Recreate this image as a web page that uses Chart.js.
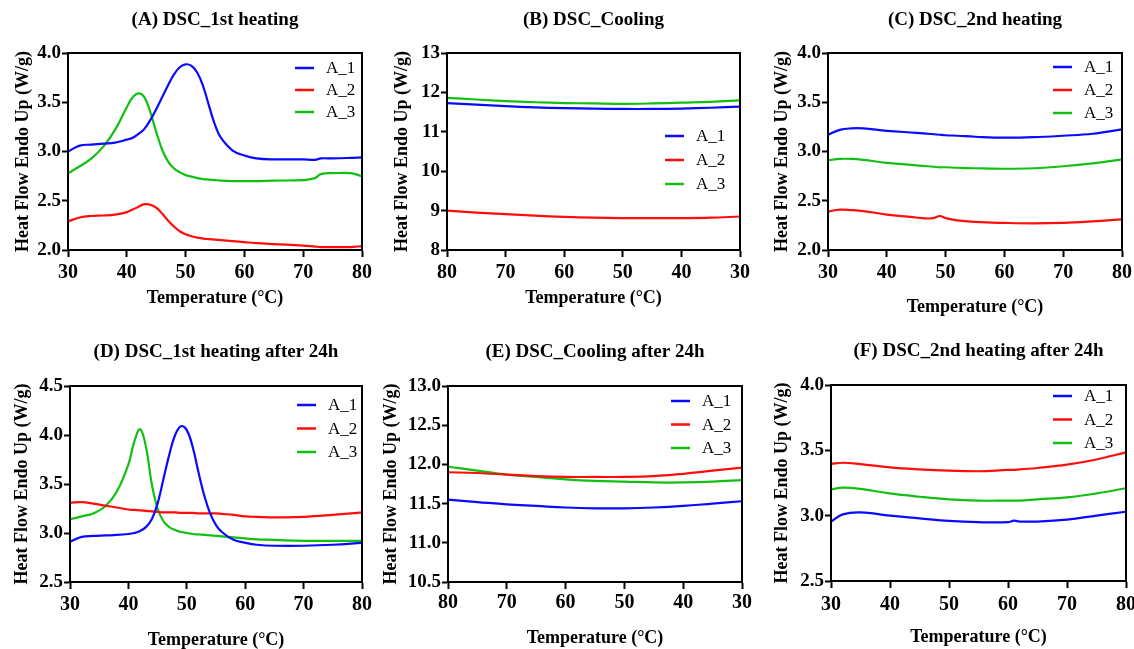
<!DOCTYPE html>
<html>
<head>
<meta charset="utf-8">
<script src="https://cdn.jsdelivr.net/npm/chart.js@4.4.1/dist/chart.umd.min.js"></script>
<style>
  html, body { margin: 0; padding: 0; background: #fff; overflow: hidden; width: 1134px; height: 649px; }
  canvas { position: absolute; }
</style>
</head>
<body>
<canvas id="chartA"></canvas>
<canvas id="chartB"></canvas>
<canvas id="chartC"></canvas>
<canvas id="chartD"></canvas>
<canvas id="chartE"></canvas>
<canvas id="chartF"></canvas>
<script>
// ---- data ----
const seriesNames = ['A_1', 'A_2', 'A_3'];

// (A) 1st heating
const tempA = [30, 32, 34, 36, 38, 40, 41, 42, 43, 44, 45, 46, 47, 48, 49, 50, 51, 52, 53, 54, 55, 56, 58, 60, 62, 65, 70, 72, 73, 75, 78, 80];
const heatA1 = [3.00, 3.06, 3.07, 3.08, 3.09, 3.12, 3.14, 3.18, 3.23, 3.32, 3.43, 3.55, 3.67, 3.78, 3.855, 3.885, 3.87, 3.80, 3.66, 3.46, 3.27, 3.14, 3.01, 2.96, 2.93, 2.92, 2.92, 2.915, 2.93, 2.93, 2.935, 2.94];
const heatA2 = [2.29, 2.33, 2.345, 2.35, 2.36, 2.385, 2.41, 2.44, 2.465, 2.46, 2.43, 2.37, 2.30, 2.24, 2.19, 2.16, 2.14, 2.125, 2.115, 2.11, 2.105, 2.10, 2.09, 2.08, 2.07, 2.06, 2.045, 2.035, 2.03, 2.03, 2.03, 2.04];
const heatA3 = [2.78, 2.85, 2.93, 3.05, 3.22, 3.45, 3.55, 3.59, 3.55, 3.40, 3.20, 3.02, 2.90, 2.83, 2.79, 2.76, 2.745, 2.73, 2.72, 2.715, 2.71, 2.705, 2.70, 2.70, 2.70, 2.705, 2.71, 2.73, 2.77, 2.78, 2.78, 2.75];

// (B) cooling
const tempB = [80, 75, 70, 65, 60, 55, 50, 45, 40, 35, 30];
const heatB1 = [11.73, 11.69, 11.65, 11.62, 11.60, 11.59, 11.58, 11.58, 11.59, 11.61, 11.64];
const heatB2 = [9.00, 8.95, 8.91, 8.87, 8.84, 8.82, 8.81, 8.81, 8.81, 8.82, 8.85];
const heatB3 = [11.86, 11.82, 11.78, 11.75, 11.73, 11.72, 11.71, 11.72, 11.74, 11.76, 11.80];

// (C) 2nd heating
const tempC = [30, 32, 34, 36, 40, 45, 47, 48, 49, 50, 52, 55, 60, 65, 70, 75, 80];
const heatC1 = [3.17, 3.22, 3.235, 3.235, 3.21, 3.19, 3.18, 3.175, 3.17, 3.165, 3.16, 3.15, 3.14, 3.145, 3.16, 3.18, 3.225];
const heatC2 = [2.39, 2.41, 2.405, 2.395, 2.36, 2.33, 2.32, 2.325, 2.345, 2.325, 2.30, 2.285, 2.275, 2.27, 2.275, 2.29, 2.31];
const heatC3 = [2.91, 2.925, 2.925, 2.915, 2.885, 2.86, 2.85, 2.845, 2.84, 2.84, 2.835, 2.83, 2.825, 2.83, 2.85, 2.88, 2.92];

// (D) 1st heating after 24h
const tempD = [30, 32, 34, 36, 38, 40, 41, 42, 43, 44, 45, 46, 47, 48, 49, 50, 51, 52, 53, 54, 55, 56, 58, 60, 62, 65, 70, 75, 80];
const heatD1 = [2.91, 2.96, 2.97, 2.975, 2.98, 2.99, 3.00, 3.02, 3.06, 3.14, 3.30, 3.55, 3.80, 4.00, 4.09, 4.05, 3.88, 3.62, 3.38, 3.20, 3.08, 3.01, 2.93, 2.90, 2.88, 2.87, 2.87, 2.88, 2.90];
const heatD2 = [3.31, 3.315, 3.30, 3.28, 3.26, 3.24, 3.235, 3.23, 3.225, 3.22, 3.215, 3.21, 3.21, 3.21, 3.205, 3.205, 3.205, 3.20, 3.20, 3.20, 3.20, 3.195, 3.185, 3.17, 3.165, 3.16, 3.165, 3.185, 3.21];
const heatD3 = [3.14, 3.17, 3.20, 3.27, 3.42, 3.70, 3.93, 4.06, 3.88, 3.50, 3.25, 3.12, 3.06, 3.03, 3.01, 3.00, 2.99, 2.985, 2.98, 2.975, 2.97, 2.965, 2.955, 2.945, 2.935, 2.93, 2.92, 2.92, 2.92];

// (E) cooling after 24h
const tempE = [80, 75, 70, 65, 60, 55, 50, 45, 40, 35, 30];
const heatE1 = [11.55, 11.52, 11.49, 11.47, 11.45, 11.44, 11.44, 11.45, 11.47, 11.50, 11.53];
const heatE2 = [11.90, 11.89, 11.87, 11.85, 11.84, 11.84, 11.84, 11.85, 11.88, 11.92, 11.96];
const heatE3 = [11.97, 11.92, 11.87, 11.84, 11.81, 11.79, 11.78, 11.77, 11.77, 11.78, 11.80];

// (F) 2nd heating after 24h
const tempF = [30, 32, 35, 40, 45, 50, 55, 60, 61, 62, 65, 70, 75, 80];
const heatF1 = [2.955, 3.01, 3.025, 3.00, 2.98, 2.96, 2.95, 2.95, 2.962, 2.955, 2.955, 2.97, 3.00, 3.03];
const heatF2 = [3.395, 3.405, 3.395, 3.37, 3.355, 3.345, 3.34, 3.35, 3.35, 3.355, 3.365, 3.39, 3.43, 3.485];
const heatF3 = [3.20, 3.215, 3.205, 3.17, 3.145, 3.125, 3.115, 3.115, 3.115, 3.115, 3.125, 3.14, 3.17, 3.21];

const lineColors = ['#0a0aff', '#ff0d0d', '#12c012'];
const serif = '"Liberation Serif", "Times New Roman", serif';

// draws the black box round the plot
const frameBox = {
    id: 'frameBox',
    afterDraw(chart) {
        const { ctx, chartArea: a } = chart;
        ctx.save();
        ctx.strokeStyle = '#000';
        ctx.lineWidth = 2;
        ctx.strokeRect(a.left, a.top, a.right - a.left, a.bottom - a.top);
        ctx.restore();
    }
};

// legend drawn inside the plot area, top right
const insideLegend = {
    id: 'insideLegend',
    afterDraw(chart, args, opts) {
        const { ctx, chartArea: a } = chart;
        ctx.save();
        ctx.font = '17px ' + serif;
        ctx.textBaseline = 'middle';
        ctx.textAlign = 'left';
        chart.data.datasets.forEach((ds, i) => {
            const y = a.top + opts.top + i * opts.gap;
            const x0 = a.right - opts.right;
            ctx.strokeStyle = ds.borderColor;
            ctx.lineWidth = 2.5;
            ctx.beginPath();
            ctx.moveTo(x0, y);
            ctx.lineTo(x0 + 19, y);
            ctx.stroke();
            ctx.fillStyle = '#000';
            ctx.fillText(ds.label, x0 + 31, y + 1);
        });
        ctx.restore();
    }
};

function makePanel(id, title, temps, series, yRange, reverse, lay) {
    const canvas = document.getElementById(id);
    const b = lay.box;
    canvas.style.left = b.x + 'px';
    canvas.style.top = b.y + 'px';
    canvas.style.width = b.w + 'px';
    canvas.style.height = b.h + 'px';
    canvas.width = b.w;
    canvas.height = b.h;

    const a = lay.area;
    const titleSize = 19, titleLH = titleSize * 1.2;
    const padTop = lay.titleY - b.y - titleLH / 2;
    const padBottom = a.t - b.y - titleLH - padTop;
    const axisSize = 18;
    const layLeft = lay.yTitleX - b.x - axisSize / 2;
    const layBottom = b.y + b.h - lay.xTitleY - axisSize / 2;
    const xTickSize = 20;
    const xTickPad = lay.tickY - a.b - 7 - xTickSize / 2;

    const datasets = series.map((vals, i) => ({
        label: seriesNames[i],
        data: temps.map((t, k) => ({ x: t, y: vals[k] })),
        borderColor: lineColors[i],
        borderWidth: 2.2,
        pointRadius: 0,
        fill: false,
        tension: 0.4
    }));

    return new Chart(canvas, {
        type: 'line',
        data: { datasets: datasets },
        options: {
            responsive: false,
            animation: false,
            layout: { padding: { left: layLeft, right: b.x + b.w - a.r, top: 0, bottom: layBottom } },
            plugins: {
                legend: { display: false },
                tooltip: { enabled: false },
                title: {
                    display: true,
                    text: title,
                    fullSize: false,
                    color: '#000',
                    font: { family: serif, size: titleSize, weight: 'bold', lineHeight: 1.2 },
                    padding: { top: padTop, bottom: padBottom }
                },
                insideLegend: lay.legend
            },
            scales: {
                x: {
                    type: 'linear',
                    min: 30,
                    max: 80,
                    reverse: reverse,
                    afterFit: s => { s.height = (b.y + b.h - layBottom) - a.b; },
                    border: { display: true, color: '#000', width: 2 },
                    grid: { display: true, drawOnChartArea: false, drawTicks: true, tickLength: 7, tickWidth: 2, color: '#000' },
                    ticks: {
                        stepSize: 10,
                        color: '#000',
                        padding: xTickPad,
                        maxRotation: 0,
                        font: { family: serif, size: xTickSize, weight: 'bold', lineHeight: 1 }
                    },
                    title: {
                        display: true,
                        text: 'Temperature (°C)',
                        color: '#000',
                        padding: 0,
                        font: { family: serif, size: axisSize, weight: 'bold', lineHeight: 1 }
                    }
                },
                y: {
                    min: yRange.min,
                    max: yRange.max,
                    afterFit: s => { s.width = a.l - b.x - layLeft; },
                    border: { display: true, color: '#000', width: 2 },
                    grid: { display: true, drawOnChartArea: false, drawTicks: true, tickLength: 6, tickWidth: 2, color: '#000' },
                    ticks: {
                        stepSize: yRange.step,
                        color: '#000',
                        padding: 1,
                        font: { family: serif, size: 19, weight: 'bold', lineHeight: 1 },
                        callback: v => yRange.step < 1 ? v.toFixed(1) : String(v)
                    },
                    title: {
                        display: true,
                        text: 'Heat Flow Endo Up (W/g)',
                        color: '#000',
                        padding: 0,
                        font: { family: serif, size: axisSize, weight: 'bold', lineHeight: 1 }
                    }
                }
            }
        },
        plugins: [frameBox, insideLegend]
    });
}

makePanel('chartA', '(A) DSC_1st heating', tempA, [heatA1, heatA2, heatA3], { min: 2, max: 4, step: 0.5 }, false, {
    box: { x: 0, y: 0, w: 378, h: 320 }, area: { l: 68, t: 53, r: 362, b: 250 },
    titleY: 20, tickY: 273, xTitleY: 298, yTitleX: 23,
    legend: { top: 15, gap: 22, right: 67 }
});
makePanel('chartB', '(B) DSC_Cooling', tempB, [heatB1, heatB2, heatB3], { min: 8, max: 13, step: 1 }, true, {
    box: { x: 378, y: 0, w: 378, h: 320 }, area: { l: 447, t: 53, r: 742, b: 250 },
    titleY: 20, tickY: 273, xTitleY: 298, yTitleX: 402,
    legend: { top: 83, gap: 24, right: 75 }
});
makePanel('chartC', '(C) DSC_2nd heating', tempC, [heatC1, heatC2, heatC3], { min: 2, max: 4, step: 0.5 }, false, {
    box: { x: 756, y: 0, w: 400, h: 320 }, area: { l: 828, t: 53, r: 1122, b: 250 },
    titleY: 20, tickY: 273, xTitleY: 307, yTitleX: 782,
    legend: { top: 14, gap: 23, right: 69 }
});
makePanel('chartD', '(D) DSC_1st heating after 24h', tempD, [heatD1, heatD2, heatD3], { min: 2.5, max: 4.5, step: 0.5 }, false, {
    box: { x: 0, y: 320, w: 378, h: 329 }, area: { l: 70, t: 386, r: 363, b: 582 },
    titleY: 352, tickY: 605, xTitleY: 640, yTitleX: 22,
    legend: { top: 19, gap: 23.5, right: 65 }
});
makePanel('chartE', '(E) DSC_Cooling after 24h', tempE, [heatE1, heatE2, heatE3], { min: 10.5, max: 13, step: 0.5 }, true, {
    box: { x: 378, y: 320, w: 378, h: 329 }, area: { l: 448, t: 386, r: 743, b: 582 },
    titleY: 352, tickY: 603, xTitleY: 638, yTitleX: 391,
    legend: { top: 15, gap: 23.5, right: 71 }
});
makePanel('chartF', '(F) DSC_2nd heating after 24h', tempF, [heatF1, heatF2, heatF3], { min: 2.5, max: 4, step: 0.5 }, false, {
    box: { x: 756, y: 320, w: 400, h: 329 }, area: { l: 831, t: 385, r: 1126, b: 581 },
    titleY: 351, tickY: 605, xTitleY: 637, yTitleX: 782,
    legend: { top: 11, gap: 23.5, right: 73 }
});
</script>
</body>
</html>
